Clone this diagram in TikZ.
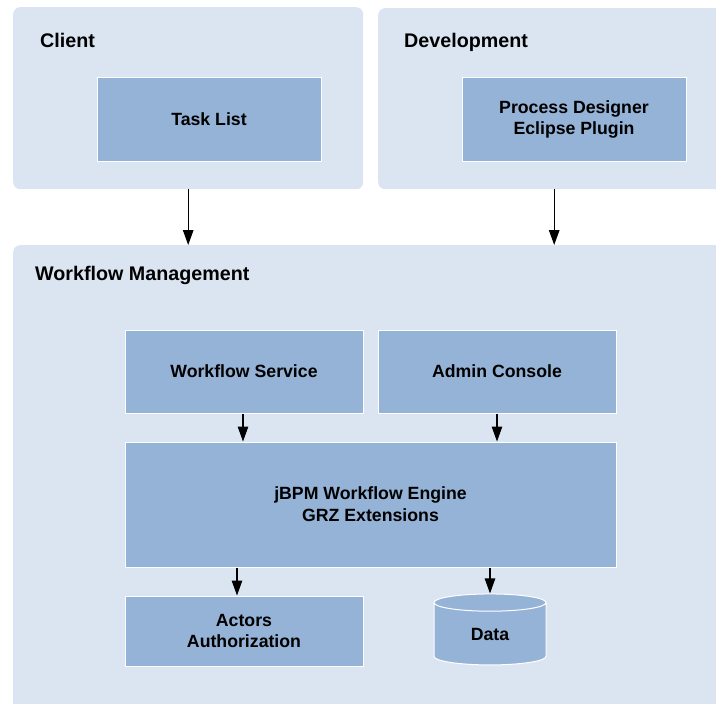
\documentclass[tikz,border=0pt]{standalone}
\usepackage{fontspec}
\setmainfont{Liberation Sans}
\usetikzlibrary{arrows.meta,shapes.geometric,calc}
\definecolor{outerbg}{HTML}{DBE5F1}
\definecolor{innerbg}{HTML}{95B3D7}
\tikzset{
  group/.style={fill=outerbg,draw=none,rounded corners=7pt,anchor=north west,inner sep=0pt},
  grouptitle/.style={anchor=base west,inner sep=0pt,font=\fontsize{19.7}{23}\selectfont\bfseries},
  comp/.style={fill=innerbg,draw=white,line width=1pt,inner sep=0pt,align=center,
    font=\fontsize{17.7}{21.8}\selectfont\bfseries},
  arr/.style={line width=1.2pt,-{Triangle[length=15pt,width=10.5pt]}},
}
\begin{document}
\begin{tikzpicture}[x=1pt,y=-1pt]
\useasboundingbox (0,0) rectangle (716,704);
\clip (0,0) rectangle (716,704);
% groups
\node[group,minimum width=350pt,minimum height=182pt] (client) at (13,7) {};
\node[group,minimum width=352pt,minimum height=181pt] (dev) at (378,8) {};
\node[group,minimum width=730pt,minimum height=480pt] (wm) at (13,245) {};
\node[grouptitle] (clientT) at (40,47) {Client};
\node[grouptitle] (devT) at (404,47) {Development};
\node[grouptitle] (wmT) at (35,280) {Workflow Management};
% components
\node[comp,minimum width=224pt,minimum height=84pt] (task) at (209,119) {Task List};
\node[comp,minimum width=224pt,minimum height=84pt] (pd) at (574,119.5) {Process Designer\\Eclipse Plugin};
\node[comp,minimum width=238pt,minimum height=83pt] (ws) at (244,371.5) {Workflow Service};
\node[comp,minimum width=238pt,minimum height=83pt] (ac) at (497,371.5) {Admin Console};
\node[comp,minimum width=491pt,minimum height=125pt] (eng) at (370.5,504.5) {jBPM Workflow Engine\\GRZ Extensions};
\node[comp,minimum width=238pt,minimum height=70pt] (act) at (244,631) {Actors\\Authorization};
\node[comp,cylinder,shape border rotate=90,aspect=0.45,minimum width=112pt,minimum height=71pt] (data) at (490,634) {Data};
% connectors
\draw[arr] (client.south) -- (client.south |- wm.north);
\draw[arr] (dev.south) -- (dev.south |- wm.north);
\draw[arr] ([xshift=-1pt]ws.south) -- ([xshift=-1pt]ws.south |- eng.north);
\draw[arr] (ac.south) -- (ac.south |- eng.north);
\draw[arr] ([xshift=-7pt]act.north |- eng.south) -- ([xshift=-7pt]act.north);
\draw[arr] (data.top |- eng.south) -- (data.top);
\end{tikzpicture}
\end{document}
